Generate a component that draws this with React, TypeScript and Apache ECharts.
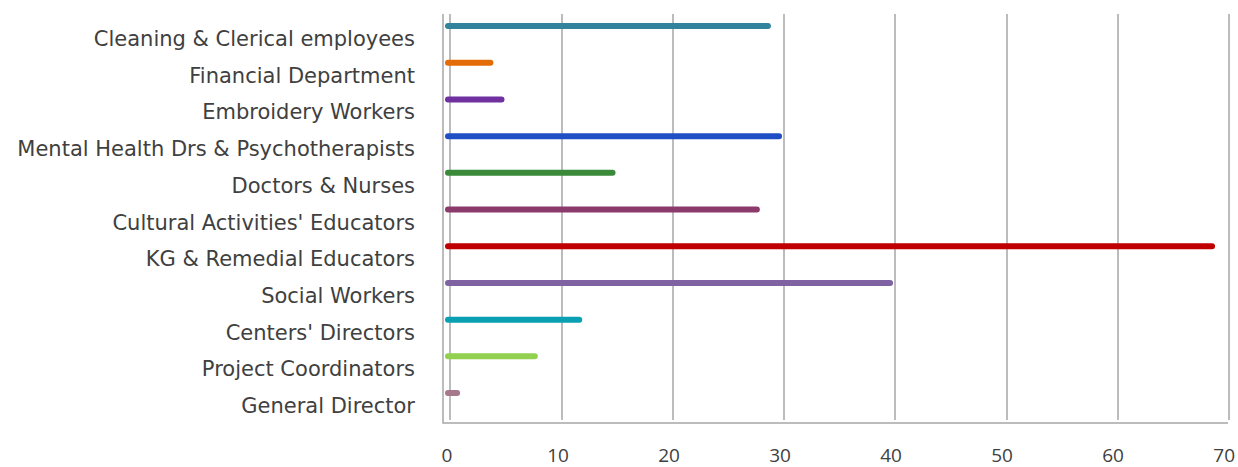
import React, { useEffect, useRef } from "react";
import * as echarts from "echarts";

const categories = [
  "Cleaning & Clerical employees",
  "Financial Department",
  "Embroidery Workers",
  "Mental Health Drs & Psychotherapists",
  "Doctors & Nurses",
  "Cultural Activities' Educators",
  "KG & Remedial Educators",
  "Social Workers",
  "Centers' Directors",
  "Project Coordinators",
  "General Director",
];
const values = [29, 4, 5, 30, 15, 28, 69, 40, 12, 8, 1];
const barColors = [
  "#31849b",
  "#e36c09",
  "#7030a0",
  "#1f4fc4",
  "#3a8a3a",
  "#8b3a6b",
  "#c00000",
  "#7f62a1",
  "#0aa0b4",
  "#92d050",
  "#a6788c",
];
const xMin = 0;
const xMax = 70;
const xStep = 10;

const FONT = "DejaVu Sans";
const TEXT = "#404040";
const GRIDC = "#a6a6a6";

export default function App() {
  const ref = useRef<HTMLDivElement>(null);
  useEffect(() => {
    if (!ref.current) return;
    const chart = echarts.init(ref.current, undefined, { renderer: "svg" });
    chart.setOption({
      animation: false,
      backgroundColor: "#ffffff",
      grid: [
        { left: 450, top: 14, width: 779, height: 406 },
        { left: 447, top: 7.7, width: 778.5, height: 403.7 },
        { left: 447, top: 20.7, width: 778.5, height: 403.7 },
      ],
      xAxis: [
        {
          type: "value",
          gridIndex: 0,
          min: xMin,
          max: xMax,
          interval: xStep,
          axisLabel: { show: false },
          axisLine: { show: false },
          axisTick: { show: false },
          splitLine: { show: true, lineStyle: { color: GRIDC, width: 1.5 } },
        },
        {
          type: "value",
          gridIndex: 1,
          min: xMin,
          max: xMax,
          interval: xStep,
          axisLine: { show: false },
          axisTick: { show: false },
          splitLine: { show: false },
          axisLabel: {
            color: TEXT,
            fontFamily: "Open Sans",
            fontSize: 19,
            lineHeight: 16,
            margin: 35.6,
          },
        },
        {
          type: "value",
          gridIndex: 2,
          min: xMin,
          max: xMax,
          interval: xStep,
          show: false,
        },
      ],
      yAxis: [
        {
          type: "category",
          gridIndex: 0,
          data: categories,
          inverse: true,
          axisLabel: { show: false },
          axisLine: { show: false },
          axisTick: { show: false },
        },
        {
          type: "category",
          gridIndex: 1,
          data: categories,
          inverse: true,
          axisLine: { show: false },
          axisTick: { show: false },
          axisLabel: { show: false },
        },
        {
          type: "category",
          gridIndex: 2,
          data: categories,
          inverse: true,
          axisLine: { show: false },
          axisTick: { show: false },
          splitLine: { show: false },
          axisLabel: {
            color: TEXT,
            fontFamily: FONT,
            fontSize: 21,
            margin: 32,
          },
        },
      ],
      graphic: [
        {
          type: "polyline",
          shape: { points: [[443, 14], [443, 423], [1228, 423]] },
          style: { stroke: GRIDC, lineWidth: 1.5, fill: "none" },
          silent: true,
        },
      ],
      series: [
        {
          type: "bar",
          xAxisIndex: 1,
          yAxisIndex: 1,
          barWidth: 2,
          data: values.map((v, i) => ({
            value: v,
            itemStyle: {
              color: barColors[i],
              borderColor: barColors[i],
              borderWidth: 6,
              borderJoin: "round",
            },
          })),
        },
      ],
    });
    return () => chart.dispose();
  }, []);
  return (
    <div
      ref={ref}
      style={{ position: "fixed", left: 0, top: 0, width: 1238, height: 467 }}
    />
  );
}
